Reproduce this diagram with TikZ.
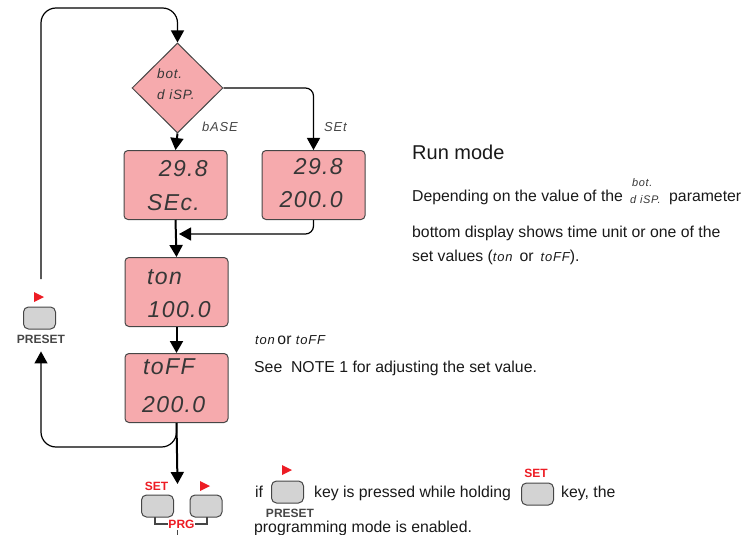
\documentclass[tikz,border=0pt]{standalone}
\usepackage{fontspec}
\setmainfont{Liberation Sans}
\newfontfamily\segfam{Liberation Sans}[LetterSpace=6]
\usetikzlibrary{arrows.meta,shapes.geometric}
\definecolor{dpink}{RGB}{246,170,173}
\definecolor{dgray}{RGB}{70,70,70}
\definecolor{kgray}{RGB}{211,211,211}
\definecolor{kred}{RGB}{237,28,36}
\definecolor{sgray}{RGB}{55,55,55}
\newcommand\sevs[1]{{\segfam\itshape #1}}
\begin{document}
\begin{tikzpicture}[x=1pt,y=-1pt,
  disp/.style={draw=dgray, line width=1pt, fill=dpink, rounded corners=4pt, minimum width=103pt, minimum height=69pt, inner sep=0pt},
  dec/.style={diamond, draw=dgray, line width=1pt, fill=dpink, minimum width=91pt, minimum height=90pt, inner sep=0pt},
  big/.style={font=\segfam\itshape\fontsize{23}{23}\selectfont, text=sgray, inner sep=0pt},
  small/.style={font=\segfam\itshape\fontsize{13.5}{13.5}\selectfont, text=sgray, inner sep=0pt},
  lab/.style={font=\segfam\itshape\fontsize{13}{13}\selectfont, text=dgray, inner sep=0pt},
  txt/.style={font=\fontsize{15.8}{18}\selectfont, text=black!90, inner sep=0pt, anchor=base west},
  key/.style={draw=dgray, line width=1pt, fill=kgray, rounded corners=5pt, minimum width=32pt, minimum height=22pt, inner sep=0pt},
  kb/.style={font=\bfseries\fontsize{12}{12}\selectfont, inner sep=0pt},
  arr/.style={-{Triangle[length=12pt,width=13pt]}},
  thick flow/.style={line width=2pt, arr},
  thin flow/.style={line width=1.2pt, arr},
]
\useasboundingbox (0,0) rectangle (756,535);

% decision
\node[dec] (d) at (177.5,88) {};
\node[small, anchor=west] (d1) at (157,74) {bot.};
\node[small, anchor=west] (d2) at (157,95) {d iSP.};
\node[lab, anchor=west] (lbase) at (202,127) {bASE};
\node[lab, anchor=west] (lset) at (324,127) {SEt};

% displays
\node[disp] (b1) at (175.5,185) {};
\node[big, anchor=east] (b1a) at (208,169) {29.8};
\node[big, anchor=west] (b1b) at (147,203) {SEc.};
\node[disp] (b2) at (313.5,185) {};
\node[big, anchor=east] (b2a) at (343,167) {29.8};
\node[big, anchor=east] (b2b) at (343,200) {200.0};
\node[disp] (b3) at (176.5,292) {};
\node[big, anchor=west] (b3a) at (147,277) {ton};
\node[big, anchor=east] (b3b) at (211,310) {100.0};
\node[disp] (b4) at (176.5,388) {};
\node[big, anchor=west] (b4a) at (143,367) {toFF};
\node[big, anchor=west] (b4b) at (142,405) {200.0};

% left PRESET key
\fill[kred] (34,292) -- (44,297) -- (34,302) -- cycle;
\node[key] (lk) at (39.5,318) {};
\node[kb, text=dgray] (prl) at (41,339) {PRESET};

% bottom keys
\node[kb, text=kred] (kset) at (156.5,486) {SET};
\fill[kred] (200,481) -- (210,486) -- (200,491) -- cycle;
\node[key] (k1) at (157.5,506) {};
\node[key] (k2) at (206,506) {};
\node[kb, text=kred] (prg) at (181.5,524) {PRG};
\draw[dgray, line width=1.3pt] (155,517) -- (155,524) -- (prg.west);
\draw[dgray, line width=1.3pt] (207,517) -- (207,524) -- (prg.east);
\coordinate (pb) at (177,530);
\draw[dgray, line width=1pt] (pb) -- (177,535);

% coordinates
\coordinate (lp) at (41,279);
\coordinate (tl) at (177.5,8);
\coordinate (m1) at (179,234);
\coordinate (kp) at (177.5,484);
\coordinate (lb) at (41,447);

% connectors
\draw[thin flow, rounded corners=15pt] (lp) |- (tl) -- (d.north);
\draw[thick flow] (d.south) -- (b1.north);
\draw[thin flow, rounded corners=8pt] (d.east) -| (b2.north);
\draw[thick flow] (b1.south) -- (b3.north);
\draw[thin flow, rounded corners=8pt] (b2.south) |- (m1);
\draw[thick flow] (b3.south) -- (b4.north);
\draw[thick flow] (b4.south) -- (kp);
\draw[thin flow, rounded corners=15pt, shorten >=8pt] (b4.south) |- (lb) -- (prl.south);

% right text
\node[txt, font=\fontsize{20}{24}\selectfont] (rm) at (412,160) {Run mode};
\node[txt] (t1) at (412,201) {Depending on the value of the};
\node[small, anchor=west, font=\segfam\itshape\fontsize{11}{11}\selectfont] (t1a) at (632,183) {bot.};
\node[small, anchor=west, font=\segfam\itshape\fontsize{11}{11}\selectfont] (t1b) at (630,200) {d iSP.};
\node[txt] (t1c) at (669,201) {parameter};
\node[txt] (t2) at (412,237) {bottom display shows time unit or one of the};
\node[txt] (t3) at (412,261) {set values ({\fontsize{13}{13}\selectfont\sevs{ton}}\, or \,{\fontsize{13}{13}\selectfont\sevs{toFF}}).};
\node[txt] (t4) at (255,344) {{\fontsize{13}{13}\selectfont\sevs{ton}}\,or {\fontsize{13}{13}\selectfont\sevs{toFF}}};
\node[txt] (t5) at (254,372) {See\ \ NOTE 1 for adjusting the set value.};

% bottom text
\node[txt] (t6) at (255,497) {if};
\fill[kred] (282,465) -- (292,470) -- (282,475) -- cycle;
\node[key] (ik1) at (287.5,492) {};
\node[kb, text=dgray] (ipr) at (290,513) {PRESET};
\node[txt] (t7) at (314,497) {key is pressed while holding};
\node[kb, text=kred] (iset) at (536,473) {SET};
\node[key] (ik2) at (537.5,494) {};
\node[txt] (t8) at (561,497) {key, the};
\node[txt] (t9) at (254,532) {programming mode is enabled.};
\end{tikzpicture}
\end{document}
